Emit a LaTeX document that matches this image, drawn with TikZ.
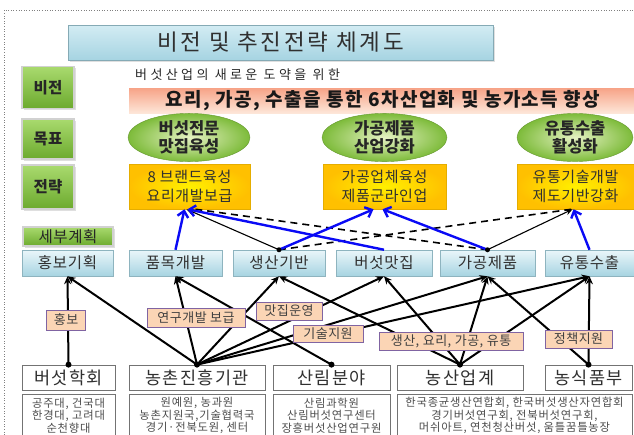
\documentclass[tikz,border=0pt]{standalone}
\usepackage{fontspec}
\setmainfont{Noto Sans CJK KR}
\usetikzlibrary{arrows.meta,shadows,shapes.geometric}
\definecolor{ttlT}{HTML}{D3ECF3}
\definecolor{ttlB}{HTML}{A6D4E2}
\definecolor{grnT}{HTML}{A9DA6E}
\definecolor{grnB}{HTML}{6CAA2E}
\definecolor{plT}{HTML}{EAF6FA}
\definecolor{plB}{HTML}{A7D4E1}
\definecolor{ylI}{HTML}{FFF000}
\definecolor{ylO}{HTML}{FFC000}
\definecolor{elI}{HTML}{E6F2C4}
\definecolor{elO}{HTML}{7DBB3A}
\definecolor{bnT}{HTML}{F7A387}
\definecolor{bnB}{HTML}{FDE6D8}
\definecolor{tagF}{HTML}{FBD5B5}
\definecolor{tagD}{HTML}{8064A2}
\definecolor{txt}{HTML}{303030}
\definecolor{bl}{HTML}{0A0AF5}
\tikzset{
  titlebox/.style={draw=ttlB!80!black, line width=0.6pt, top color=ttlT, bottom color=ttlB,
    drop shadow={shadow xshift=2pt, shadow yshift=-2pt, opacity=0.25}, text=txt,
    font=\fontsize{22.5}{26}\selectfont\addfontfeature{LetterSpace=12}},
  lblbox/.style={draw=white!82!black, line width=1.4pt, top color=grnT, bottom color=grnB,
    drop shadow={shadow xshift=1.5pt, shadow yshift=-1.5pt, opacity=0.25},
    font=\fontsize{15.5}{18}\selectfont\bfseries, text=black!85, inner sep=0pt},
  planbox/.style={draw=plB!85!black, line width=0.5pt, top color=plT, bottom color=plB,
    drop shadow={shadow xshift=1pt, shadow yshift=-1pt, opacity=0.2},
    font=\fontsize{15.5}{18}\selectfont\addfontfeature{LetterSpace=5}, text=txt, inner sep=0pt, minimum height=26pt},
  stratbox/.style={draw=ylO!90!black, line width=0.5pt, inner color=ylI, outer color=ylO,
    font=\fontsize{15}{18.5}\selectfont\addfontfeature{LetterSpace=4}, text=txt, align=center, inner sep=0pt, minimum height=45pt},
  goal/.style={ellipse, draw=elO!80!black, line width=0.4pt, inner color=elI, outer color=elO,
    font=\fontsize{16.5}{18.5}\selectfont\bfseries, text=black!85, align=center, inner sep=0pt, minimum height=43pt},
  orgbox/.style={draw=black!55, line width=0.8pt, fill=white, font=\fontsize{17.5}{20}\selectfont\addfontfeature{LetterSpace=8},
    text=txt, inner sep=0pt, minimum height=25pt},
  detbox/.style={draw=black!55, line width=0.8pt, fill=white, inner sep=0pt, anchor=north, minimum height=50pt},
  dettext/.style={font=\fontsize{11.3}{12.6}\selectfont\addfontfeature{LetterSpace=7}, text=black!70, inner sep=0pt, align=center},
  tagbox/.style={draw=tagD, line width=0.8pt, fill=tagF, font=\fontsize{13}{15}\selectfont\addfontfeature{LetterSpace=4},
    text=black!75, inner sep=0pt},
  thick/.style={black, line width=2pt, -{Stealth[length=8pt,width=7pt]}},
  bluearr/.style={bl, line width=2.4pt, -{Straight Barb[length=6pt,width=11pt]}},
  thinarr/.style={black, line width=1.1pt, -{Stealth[length=7pt,width=6pt]}},
  dashln/.style={black, line width=1.6pt, dash pattern=on 7pt off 5pt},
  dot/.style={circle, fill=black, inner sep=0pt, minimum size=6pt}
}
\begin{document}
\begin{tikzpicture}[x=1pt,y=-1pt]
\useasboundingbox (0,0) rectangle (634,434);
\clip (0,0) rectangle (634,434);
% outer dotted frame
\draw[black!50, line width=0.6pt, dotted] (4,440) -- (4,10) -- (640,10);

% title
\node[titlebox, minimum width=425pt, minimum height=35pt] (title) at (280.5,42.5) {비전 및 추진전략 체계도};

% left labels
\node[lblbox, minimum width=52pt, minimum height=42pt] (lv) at (48,87.5) {비전};
\node[lblbox, minimum width=52pt, minimum height=40pt] (lg) at (48,139) {목표};
\node[lblbox, minimum width=52pt, minimum height=44pt] (ls) at (48,187) {전략};
\node[lblbox, minimum width=90pt, minimum height=19pt, font=\fontsize{15.5}{18}\selectfont\addfontfeature{LetterSpace=4}] (lp) at (68,236.5) {세부계획};

% subtitle and banner
\node[anchor=west, inner sep=0pt, text=black!85, font=\fontsize{13}{15}\selectfont\addfontfeature{LetterSpace=26}] (sub) at (135,75) {버섯산업의 새로운 도약을 위한};
\node[minimum width=506pt, minimum height=25pt, inner sep=0pt, top color=bnT, bottom color=bnB] (ban) at (382,100.5) {};
\node[inner sep=0pt, font=\fontsize{19}{22}\selectfont\bfseries\addfontfeature{LetterSpace=7}, text=black!90] (bant) at (383,101) {요리, 가공, 수출을 통한 6차산업화 및 농가소득 향상};

% goals
\node[goal, minimum width=122pt] (g1) at (189,137.5) {버섯전문\\맛집육성};
\node[goal, minimum width=125pt] (g2) at (384.5,137.5) {가공제품\\산업강화};
\node[goal, minimum width=116pt] (g3) at (575,137.5) {유통수출\\활성화};

% strategies
\node[stratbox, minimum width=121pt] (s1) at (189.5,186.5) {8 브랜드육성\\요리개발보급};
\node[stratbox, minimum width=123pt] (s2) at (384.5,186.5) {가공업체육성\\제품군라인업};
\node[stratbox, minimum width=117pt] (s3) at (575.5,186.5) {유통기술개발\\제도기반강화};

% plans
\node[planbox, minimum width=91pt] (p1) at (67.5,263) {홍보기획};
\node[planbox, minimum width=93pt] (p2) at (175.5,263) {품목개발};
\node[planbox, minimum width=92pt] (p3) at (279,263) {생산기반};
\node[planbox, minimum width=96pt] (p4) at (384,263) {버섯맛집};
\node[planbox, minimum width=95pt] (p5) at (487.5,263) {가공제품};
\node[planbox, minimum width=89pt] (p6) at (589.5,263) {유통수출};

% organisations
\node[orgbox, minimum width=93pt] (o1) at (68.5,377.5) {버섯학회};
\node[orgbox, minimum width=136pt] (o2) at (197,377.5) {농촌진흥기관};
\node[orgbox, minimum width=117pt] (o3) at (331.5,377.5) {산림분야};
\node[orgbox, minimum width=126pt] (o4) at (460,377.5) {농산업계};
\node[orgbox, minimum width=87pt] (o5) at (588.5,377.5) {농식품부};

% details
\node[detbox, minimum width=93pt] (d1) at (68.5,394) {};
\node[detbox, minimum width=136pt] (d2) at (197,394) {};
\node[detbox, minimum width=117pt] (d3) at (331.5,394) {};
\node[detbox, minimum width=235pt] (d4) at (514.5,394) {};
\node[dettext] (d1t) at (68.5,415.5) {공주대, 건국대\\한경대, 고려대\\순천향대};
\node[dettext] (d2t) at (197,415.5) {원예원, 농과원\\농촌지원국,기술협력국\\경기·전북도원, 센터};
\node[dettext] (d3t) at (331.5,415.5) {산림과학원\\산림버섯연구센터\\장흥버섯산업연구원};
\node[dettext] (d4t) at (514.5,415.5) {한국종균생산연합회, 한국버섯생산자연합회\\경기버섯연구회, 전북버섯연구회,\\머쉬아트, 연천청산버섯, 움틀꿈틀농장};

% upper connectors
\draw[dashln] (p5.north) -- ([xshift=6pt]s1.south);
\draw[dashln] (p3.north) -- ([xshift=-4pt]s3.south);
\draw[thinarr] (p3.north) -- ([xshift=-3pt]s1.south);
\draw[thinarr] (p5.north) -- ([xshift=-3pt]s3.south);
\draw[bluearr] (p2.north) -- ([xshift=-5pt]s1.south);
\draw[bluearr] (p4.north) -- ([xshift=-2pt]s1.south);
\draw[bluearr] (p3.north) -- ([xshift=-11pt]s2.south);
\draw[bluearr] (p5.north) -- ([xshift=-2pt]s2.south);
\draw[bluearr] (p6.north) -- ([xshift=-2pt]s3.south);
\node[dot, minimum size=5pt] (dp3) at (p3.north) {};
\node[dot, minimum size=5pt] (dp5) at (p5.north) {};

% lower connectors
\draw[thick] (o1.north) -- (p1.south);
\foreach \p in {p1,p2,p3,p4,p5,p6} \draw[thick] (o2.north) -- (\p.south);
\draw[thick] (o3.north) -- (p2.south);
\foreach \p in {p3,p4,p5,p6} \draw[thick] (o4.north) -- (\p.south);
\foreach \p in {p5,p6} \draw[thick] (o5.north) -- (\p.south);
\foreach \o in {o1,o2,o3,o4,o5} \node[dot] at (\o.north) {};

% tags
\node[tagbox, minimum width=39pt, minimum height=20pt] (t1) at (66,320) {홍보};
\node[tagbox, minimum width=98pt, minimum height=19pt] (t2) at (196,317.5) {연구개발 보급};
\node[tagbox, minimum width=66pt, minimum height=18pt] (t3) at (289,311) {맛집운영};
\node[tagbox, minimum width=70pt, minimum height=17pt] (t4) at (328,333.5) {기술지원};
\node[tagbox, minimum width=144pt, minimum height=18pt] (t5) at (451,341) {생산, 요리, 가공, 유통};
\node[tagbox, minimum width=67pt, minimum height=18pt] (t6) at (578.5,339) {정책지원};
\end{tikzpicture}
\end{document}
